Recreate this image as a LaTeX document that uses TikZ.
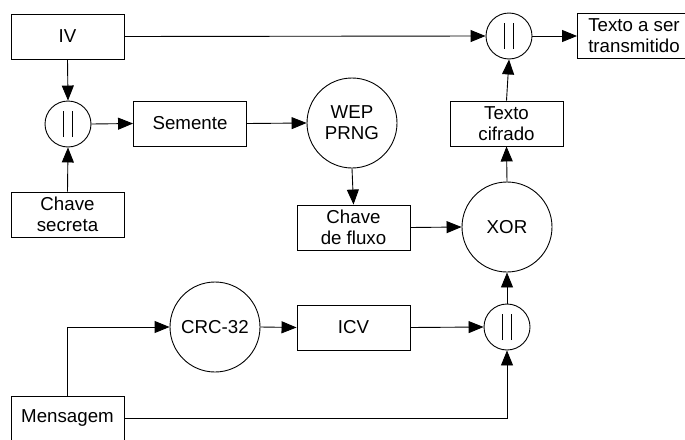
\documentclass[tikz,border=0pt]{standalone}
\usepackage{fontspec}
\setmainfont{Liberation Sans}
\usetikzlibrary{arrows.meta}
\tikzset{
  box/.style={draw, rectangle, minimum width=113pt, minimum height=45pt, inner sep=0pt, align=center, font=\fontsize{18.7}{21}\selectfont},
  bigcirc/.style={draw, circle, minimum size=90pt, inner sep=0pt, align=center, font=\fontsize{18.7}{21}\selectfont},
  concat/.style={draw, circle, minimum size=46pt, inner sep=0pt,
    path picture={
      \draw ([xshift=-4.5pt,yshift=-13pt]path picture bounding box.center) -- ++(0pt,26pt);
      \draw ([xshift=4.5pt,yshift=-13pt]path picture bounding box.center) -- ++(0pt,26pt);
    }},
  conn/.style={draw, -{Triangle[length=15pt,width=12pt]}},
  plain/.style={draw}
}
\begin{document}
\begin{tikzpicture}[x=1pt, y=-1pt, line width=0.9pt]
\useasboundingbox (0,0) rectangle (685,439);
\clip (0,0) rectangle (685,439);
% nodes
\node[box] (iv) at (67.5,36.5) {IV};
\node[concat] (cat1) at (68,124) {};
\node[box] (sem) at (190,123.5) {Semente};
\node[bigcirc] (wep) at (352,123) {WEP\\PRNG};
\node[box] (sec) at (67.5,214.5) {Chave\\secreta};
\node[box] (flx) at (353.5,227.5) {Chave\\de fluxo};
\node[bigcirc] (xor) at (507,227) {XOR};
\node[box] (cif) at (506.5,123.5) {Texto\\cifrado};
\node[concat] (topcat) at (509,36) {};
\node[box] (tx) at (634,36) {Texto a ser\\transmitido};
\node[bigcirc] (crc) at (215,327) {CRC-32};
\node[box] (icv) at (353.5,327.5) {ICV};
\node[concat] (botcat) at (507,327) {};
\node[box] (msg) at (67.5,418.5) {Mensagem};
% connectors
\path[conn] (iv.east) -- (topcat.west);
\path[conn] (iv.south) -- (cat1.north);
\path[conn] (sec.north) -- (cat1.south);
\path[conn] (cat1.east) -- (sem.west);
\path[conn] (sem.east) -- (wep.west);
\path[conn] (wep.south) -- (flx.north);
\path[conn] (flx.east) -- (xor.west);
\path[conn] (xor.north) -- (cif.south);
\path[conn] (cif.north) -- (topcat.south);
\path[conn] (topcat.east) -- (tx.west);
\path[conn] (msg.north) |- (crc.west);
\path[conn] (crc.east) -- (icv.west);
\path[conn] (icv.east) -- (botcat.west);
\path[conn] (msg.east) -| (botcat.south);
\path[conn] (botcat.north) -- (xor.south);
\end{tikzpicture}
\end{document}
